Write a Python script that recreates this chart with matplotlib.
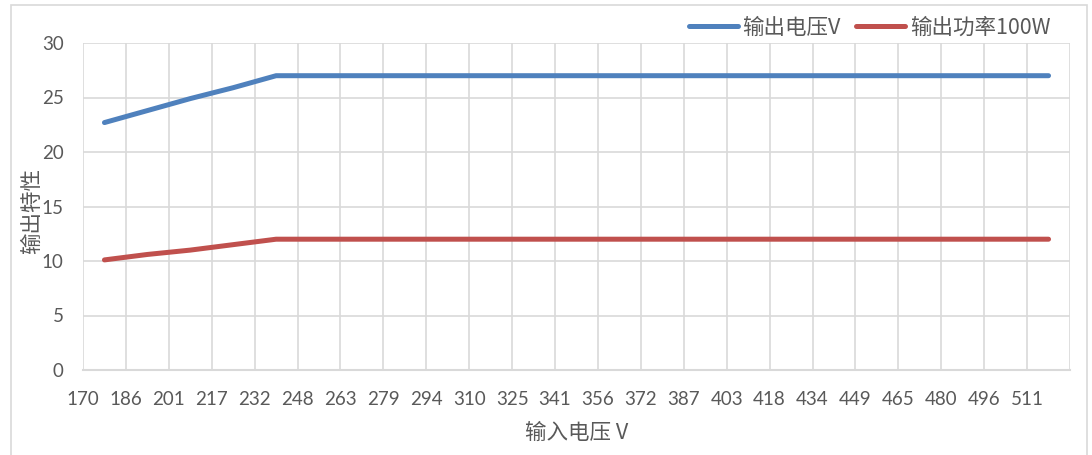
import matplotlib.pyplot as plt
import matplotlib.patches as patches

# category labels on the x axis (input voltage)
x_labels = ['170', '186', '201', '217', '232', '248', '263', '279', '294', '310', '325', '341',
            '356', '372', '387', '403', '418', '434', '449', '465', '480', '496', '511']

# series values, one per category
volt_out = [22.7, 23.8, 24.9, 25.9, 27, 27, 27, 27, 27, 27, 27, 27,
            27, 27, 27, 27, 27, 27, 27, 27, 27, 27, 27]
power_out = [10.1, 10.6, 11.0, 11.5, 12, 12, 12, 12, 12, 12, 12, 12,
             12, 12, 12, 12, 12, 12, 12, 12, 12, 12, 12]

CJK = ['Noto Sans CJK SC', 'DejaVu Sans']
GRAY_TXT = '#595959'
GRID = '#d9d9d9'

plt.rcParams['font.family'] = CJK

fig = plt.figure(figsize=(10.92, 4.55), dpi=100)
W, H = 1092, 455
ax = fig.add_axes([83 / W, 1 - 370 / H, (1070 - 83) / W, (370 - 43) / H])

# outer chart border
fig.patches.append(patches.Rectangle((11 / W, -0.05), (1087 - 11) / W, 1 - 5 / H + 0.05,
                                     transform=fig.transFigure, fill=False,
                                     edgecolor=GRID, linewidth=1.2))

n = len(x_labels)
xs = [i + 0.5 for i in range(n)]
ax.plot(xs, volt_out, color='#4f81bd', lw=3.6, solid_capstyle='round', label='输出电压V')
ax.plot(xs, power_out, color='#c0504d', lw=3.6, solid_capstyle='round', label='输出功率100W')

ax.set_xlim(0, n)
ax.set_ylim(0, 30)
ax.set_xticks(range(n + 1))
ax.set_xticklabels(x_labels + [''])
ax.set_yticks(range(0, 31, 5))

ax.grid(True, color=GRID, lw=1.2)
ax.set_axisbelow(True)
for s in ['top', 'right', 'left']:
    ax.spines[s].set_visible(False)
ax.spines['bottom'].set_color(GRID)
ax.spines['bottom'].set_linewidth(1.5)

ax.tick_params(axis='both', length=0, labelcolor=GRAY_TXT, labelsize=13.5)
ax.tick_params(axis='x', pad=15)
ax.tick_params(axis='y', pad=14)
for t in ax.get_xticklabels() + ax.get_yticklabels():
    t.set_family(['Lato', 'DejaVu Sans'])

ax.text(-0.052, 0.485, '输出特性', transform=ax.transAxes, rotation=90,
        ha='center', va='center', fontsize=15.5, color=GRAY_TXT)
ax.set_xlabel('输入电压 V', fontsize=15.5, color=GRAY_TXT, labelpad=10)

leg = ax.legend(loc='center right', bbox_to_anchor=(0.98, 1.046), ncol=2, frameon=False,
                fontsize=15.5, handlelength=2.3, handletextpad=0.2, columnspacing=0.7,
                borderaxespad=0.0, borderpad=0.0)
for t in leg.get_texts():
    t.set_color(GRAY_TXT)

fig.savefig('out.png', dpi=100)
